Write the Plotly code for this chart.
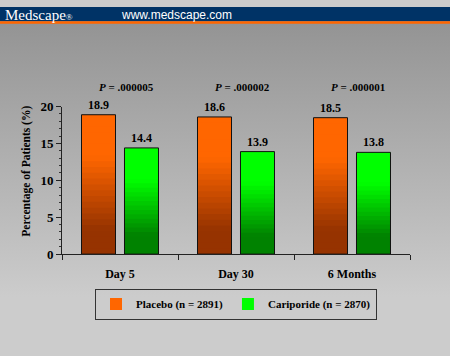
import base64
import plotly.graph_objects as go

# ---- data ----
categories = ["Day 5", "Day 30", "6 Months"]
placebo = [18.9, 18.6, 18.5]
cariporide = [14.4, 13.9, 13.8]
p_labels = ["<i>P</i> = .000005", "<i>P</i> = .000002", "<i>P</i> = .000001"]
series_names = ["Placebo (n = 2891)", "Cariporide (n = 2870)"]
y_ticks = [0, 5, 10, 15, 20]

W, H = 450, 356
SERIF = "Liberation Serif"


def hex_to_rgb(h):
    h = h.lstrip("#")
    return tuple(int(h[i:i + 2], 16) for i in (0, 2, 4))


def mix(c1, c2, t):
    a, b = hex_to_rgb(c1), hex_to_rgb(c2)
    return "rgb(%d,%d,%d)" % tuple(round(a[i] + (b[i] - a[i]) * t) for i in range(3))


def shade(top, bottom, f):
    if f >= 0.70:
        return mix(top, top, 0)
    if f <= 0.18:
        return mix(bottom, bottom, 0)
    return mix(bottom, top, (f - 0.18) / 0.52)


fig = go.Figure()

series = [
    (series_names[0], placebo, "#ff6600", "#963300", "p"),
    (series_names[1], cariporide, "#00ff00", "#008200", "c"),
]
N = 24
for name, vals, top, bottom, grp in series:
    for k in range(N):
        frac = 1 - k / N
        fig.add_trace(go.Bar(
            x=categories, y=[v * frac for v in vals], name=name,
            offsetgroup=grp, legendgroup=grp, showlegend=(k == 0),
            marker=dict(color=shade(top, bottom, frac - 0.5 / N),
                        line=dict(width=0)),
            hoverinfo="skip",
        ))

for name, vals, top, bottom, grp in series:
    fig.add_trace(go.Bar(
        x=categories, y=vals, name=name, offsetgroup=grp, legendgroup=grp,
        showlegend=False,
        marker=dict(color="rgba(0,0,0,0)", line=dict(color="#111111", width=1)),
        text=["%.1f" % v for v in vals], textposition="outside",
        textfont=dict(family=SERIF, size=12, color="#000000", weight="bold"),
        cliponaxis=False,
    ))

# background gradient
svg = ('<svg xmlns="http://www.w3.org/2000/svg" width="450" height="356" preserveAspectRatio="none">'
       '<defs><linearGradient id="g" x1="0" y1="0" x2="0" y2="1">'
       '<stop offset="0.05" stop-color="#949494"/>'
       '<stop offset="0.85" stop-color="#cccccc"/>'
       '<stop offset="1" stop-color="#cccccc"/>'
       '</linearGradient></defs><rect width="450" height="356" fill="url(#g)"/></svg>')
src = "data:image/svg+xml;base64," + base64.b64encode(svg.encode()).decode()

annotations = [
    dict(text="Medscape<span style='font-size:9px'>®</span>", x=3 / W, y=1 - 8 / H,
         xref="paper", yref="paper",
         xanchor="left", yanchor="middle", showarrow=False,
         font=dict(family=SERIF, size=15, color="white")),
    dict(text="www.medscape.com", x=119 / W, y=1 - 8 / H, xref="paper", yref="paper",
         xanchor="left", yanchor="middle", showarrow=False,
         font=dict(family="Liberation Sans", size=12, color="white")),
    dict(text="Percentage of Patients (%)", x=27 / W, y=(H - 172) / H,
         xref="paper", yref="paper", textangle=-90, showarrow=False,
         xanchor="center", yanchor="middle",
         font=dict(family=SERIF, size=11.5, color="#000000", weight="bold")),
]
for cat, lab in zip(categories, p_labels):
    annotations.append(dict(
        text=lab, x=cat, xref="x", y=(H - 83) / H, yref="paper", xshift=6,
        showarrow=False, xanchor="center", yanchor="middle",
        font=dict(family=SERIF, size=11, color="#000000", weight="bold")))

fig.update_layout(
    width=W, height=H,
    margin=dict(l=0, r=0, t=0, b=0),
    paper_bgcolor="#cccccc", plot_bgcolor="rgba(0,0,0,0)",
    barmode="group", bargap=0.259, bargroupgap=0.209,
    images=[dict(source=src, xref="paper", yref="paper", x=0, y=1,
                 sizex=1, sizey=1, sizing="stretch", layer="below",
                 xanchor="left", yanchor="top")],
    shapes=[
        dict(type="rect", xref="paper", yref="paper", x0=0, x1=1,
             y0=1 - 15 / H, y1=1, fillcolor="#003366", line=dict(width=0), layer="above"),
        dict(type="rect", xref="paper", yref="paper", x0=0, x1=1,
             y0=1 - 17.5 / H, y1=1 - 15 / H, fillcolor="#ff6600", line=dict(width=0), layer="above"),
    ],
    annotations=annotations,
    xaxis=dict(domain=[62 / W, 410 / W], showline=True, linecolor="#222222", linewidth=1,
               ticks="outside", tickson="boundaries", ticklen=5, tickcolor="#222222",
               showgrid=False, ticklabelstandoff=8,
               tickfont=dict(family=SERIF, size=12, color="#000000", weight="bold")),
    yaxis=dict(domain=[(H - 258) / H, (H - 104) / H], range=[0, 20],
               tickvals=y_ticks, showline=True, linecolor="#222222", linewidth=1,
               ticks="outside", ticklen=5, tickcolor="#222222", showgrid=False,
               zeroline=False,
               minor=dict(dtick=1, ticks="outside", ticklen=2, tickcolor="#333333"),
               tickfont=dict(family=SERIF, size=13, color="#000000", weight="bold")),
    legend=dict(orientation="h", x=236 / W, xanchor="center", y=(H - 294) / H,
                yanchor="top", bgcolor="rgba(0,0,0,0)", bordercolor="#333333",
                borderwidth=1, traceorder="normal", itemwidth=30,
                font=dict(family=SERIF, size=11, color="#000000", weight="bold")),
    showlegend=True,
)

fig.write_html(
    "out.html", config={"displayModeBar": False},
    post_script=("document.documentElement.style.margin='0px';"
                 "document.body.style.margin='0px';"
                 "document.body.style.overflow='hidden';"
                 "document.documentElement.style.overflow='hidden';"))
